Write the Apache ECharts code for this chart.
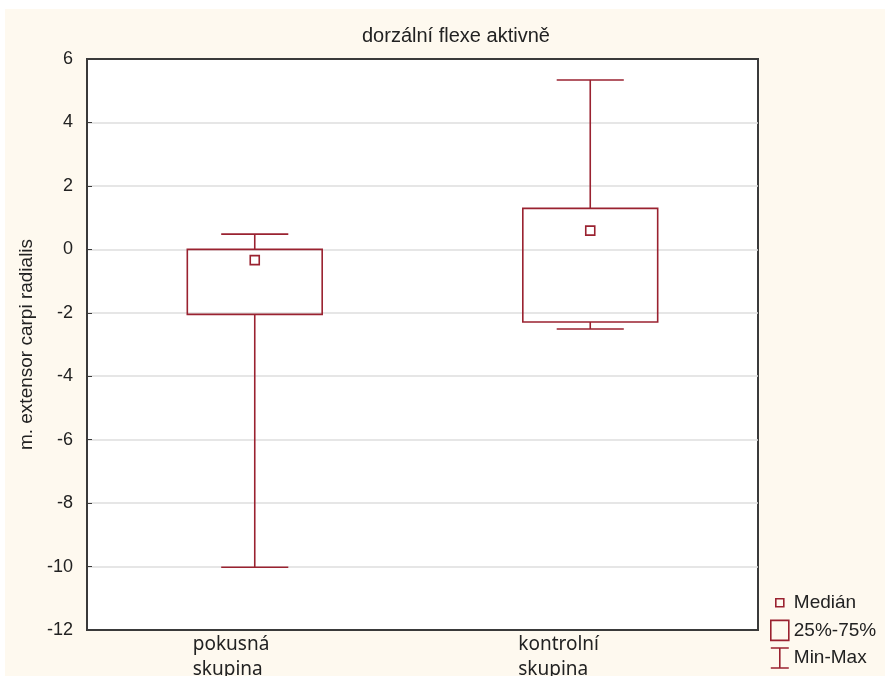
<!DOCTYPE html>
<html>
<head>
<meta charset="utf-8">
<script src="https://cdn.jsdelivr.net/npm/echarts@6/dist/echarts.min.js"></script>
<style>
  html, body { margin: 0; padding: 0; background: #fff; }
  #chart { position: absolute; left: 5px; top: 9px; width: 880px; height: 667px; }
</style>
</head>
<body>
<div id="chart"></div>
<script>
(() => {
  const groups = ['pokusná\nskupina', 'kontrolní\nskupina'];
  const minVals = [-10.02, -2.51];
  const q1Vals = [-2.05, -2.29];
  const medianVals = [-0.34, 0.59];
  const q3Vals = [0.0, 1.29];
  const maxVals = [0.48, 5.34];

  const RED = '#9a2230';
  const INK = '#222';

  let myChart = echarts.init(document.getElementById('chart'));

  const boxData = groups.map((g, i) => [i, q1Vals[i], q3Vals[i]]);
  const whiskerData = groups.map((g, i) => [i, minVals[i], q1Vals[i], q3Vals[i], maxVals[i]]);
  const medianData = groups.map((g, i) => [i, medianVals[i]]);

  const band = api => api.size([1, 0])[0];

  let option = {
    backgroundColor: '#fef9ef',
    animation: false,
    title: {
      text: 'dorzální flexe aktivně',
      left: 352,
      top: 12,
      textStyle: { fontFamily: 'Liberation Sans', fontSize: 20, fontWeight: 'normal', color: INK }
    },
    legend: {
      orient: 'vertical',
      left: 765,
      top: 583,
      padding: 0,
      itemWidth: 18,
      itemHeight: 20,
      itemGap: 6,
      selectedMode: false,
      textStyle: { fontFamily: 'Liberation Sans', fontSize: 19, color: INK },
      itemStyle: { color: 'transparent', borderColor: RED, borderWidth: 1.6 },
      data: [
        { name: 'Medián', icon: 'path://M0,0M18,20M5,6h8v8h-8z' },
        { name: '25%-75%', icon: 'path://M0,0H18V20H0Z' },
        { name: 'Min-Max', icon: 'path://M0,0H18M9,0V20M0,20H18' }
      ]
    },
    grid: {
      left: 82, right: 127, top: 50, bottom: 46,
      outerBoundsMode: 'none',
      containLabel: false,
      show: true,
      backgroundColor: '#ffffff',
      borderColor: '#3a3a3a',
      borderWidth: 2
    },
    xAxis: [
      {
        type: 'category',
        data: groups,
        position: 'bottom',
        axisLine: { onZero: false, lineStyle: { color: '#3a3a3a', width: 2 } },
        axisTick: { inside: true, alignWithLabel: true, length: 5, lineStyle: { color: '#3a3a3a' } },
        axisLabel: {
          margin: 2,
          fontFamily: 'Noto Sans',
          fontSize: 19,
          lineHeight: 25,
          color: INK,
          formatter: (v, i) => {
            const key = i === 0 ? 'p' : 'k';
            return v.split('\n').map(s => '{' + key + '|' + s + '}').join('\n');
          },
          rich: {
            p: { width: 124, align: 'left', fontFamily: 'Noto Sans', fontSize: 19, lineHeight: 25, color: INK },
            k: { width: 144, align: 'left', fontFamily: 'Noto Sans', fontSize: 19, lineHeight: 25, color: INK }
          }
        },
        splitLine: { show: false }
      },
      {
        type: 'category',
        data: groups,
        position: 'top',
        axisLine: { onZero: false, lineStyle: { color: '#3a3a3a', width: 2 } },
        axisTick: { inside: true, alignWithLabel: true, length: 5, lineStyle: { color: '#3a3a3a' } },
        axisLabel: { show: false }
      }
    ],
    yAxis: {
      type: 'value',
      min: -12,
      max: 6,
      interval: 2,
      name: 'm. extensor carpi radialis',
      nameLocation: 'middle',
      nameGap: 50,
      nameTextStyle: { fontFamily: 'Liberation Sans', fontSize: 19, color: INK },
      axisLine: { show: true, lineStyle: { color: '#3a3a3a', width: 2 } },
      axisTick: { show: true, inside: true, length: 5, lineStyle: { color: '#3a3a3a' } },
      axisLabel: { margin: 14, fontFamily: 'Liberation Sans', fontSize: 18, color: INK },
      splitLine: { lineStyle: { color: '#dedede', width: 1.5 } }
    },
    series: [
      {
        name: 'Min-Max',
        type: 'custom',
        data: whiskerData,
        encode: { x: 0, y: [1, 2, 3, 4] },
        renderItem: (params, api) => {
          const i = api.value(0);
          const cap = band(api) * 0.2;
          const pMin = api.coord([i, api.value(1)]);
          const pQ1 = api.coord([i, api.value(2)]);
          const pQ3 = api.coord([i, api.value(3)]);
          const pMax = api.coord([i, api.value(4)]);
          const style = { stroke: RED, lineWidth: 1.6, fill: null };
          return {
            type: 'group',
            children: [
              { type: 'line', shape: { x1: pMax[0], y1: pMax[1], x2: pQ3[0], y2: pQ3[1] }, style },
              { type: 'line', shape: { x1: pQ1[0], y1: pQ1[1], x2: pMin[0], y2: pMin[1] }, style },
              { type: 'line', shape: { x1: pMax[0] - cap / 2, y1: pMax[1], x2: pMax[0] + cap / 2, y2: pMax[1] }, style },
              { type: 'line', shape: { x1: pMin[0] - cap / 2, y1: pMin[1], x2: pMin[0] + cap / 2, y2: pMin[1] }, style }
            ]
          };
        }
      },
      {
        name: '25%-75%',
        type: 'custom',
        data: boxData,
        encode: { x: 0, y: [1, 2] },
        renderItem: (params, api) => {
          const i = api.value(0);
          const w = band(api) * 0.402;
          const top = api.coord([i, api.value(2)]);
          const bot = api.coord([i, api.value(1)]);
          return {
            type: 'rect',
            shape: { x: top[0] - w / 2, y: top[1], width: w, height: bot[1] - top[1] },
            style: { stroke: RED, lineWidth: 1.6, fill: 'rgba(255,255,255,0)' }
          };
        }
      },
      {
        name: 'Medián',
        type: 'custom',
        data: medianData,
        encode: { x: 0, y: 1 },
        renderItem: (params, api) => {
          const p = api.coord([api.value(0), api.value(1)]);
          const s = 9;
          return {
            type: 'rect',
            shape: { x: p[0] - s / 2, y: p[1] - s / 2, width: s, height: s },
            style: { stroke: RED, lineWidth: 1.6, fill: '#fff' }
          };
        }
      }
    ]
  };

  myChart.setOption(option);
})();
</script>
</body>
</html>
